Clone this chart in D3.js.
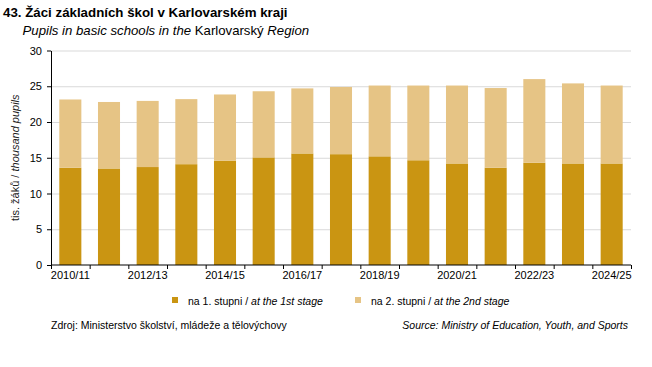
<!DOCTYPE html>
<html>
<head>
<meta charset="utf-8">
<script src="https://cdn.jsdelivr.net/npm/d3@7"></script>
<style>
  body { margin: 0; background: #fff; }
  svg { font-family: "Liberation Sans", Arial, sans-serif; }
  .gridline line { stroke: #d9d9d9; }
  .gridline path { display: none; }
  .axis text { font-size: 11px; fill: #000; }
  .axis path, .axis line { stroke: #000; }
</style>
</head>
<body>
<div class="chart"></div>
<script>
// school years
const years = ["2010/11", "2011/12", "2012/13", "2013/14", "2014/15", "2015/16", "2016/17",
  "2017/18", "2018/19", "2019/20", "2020/21", "2021/22", "2022/23", "2023/24", "2024/25"];
// thousand pupils, 1st stage
const stage1 = [13.6, 13.5, 13.7, 14.1, 14.6, 15.05, 15.6, 15.5, 15.2, 14.65, 14.2, 13.6, 14.3, 14.2, 14.2];
// thousand pupils, 2nd stage (total minus 1st stage)
const total = [23.15, 22.8, 22.95, 23.2, 23.85, 24.3, 24.7, 24.9, 25.1, 25.1, 25.1, 24.75, 26.0, 25.4, 25.1];
const stage2 = total.map((t, i) => +(t - stage1[i]).toFixed(2));
const yTicks = [0, 5, 10, 15, 20, 25, 30];

const w = 652;
const h = 367;
const margin = { top: 50.5, left: 51, right: 21, bottom: 102 };
const width = w - margin.left - margin.right;
const height = h - margin.top - margin.bottom;

const colors = { s1: "#CA9512", s2: "#E6C485" };

const svg = d3.select(".chart").append("svg")
  .attr("width", w)
  .attr("height", h);

// titles
svg.append("text")
  .attr("x", 3).attr("y", 17)
  .style("font-size", "13.3px").style("font-weight", "bold")
  .text("43. Žáci základních škol v Karlovarském kraji");

const sub = svg.append("text")
  .attr("x", 22.5).attr("y", 34.5)
  .style("font-size", "13.2px");
sub.append("tspan").style("font-style", "italic").text("Pupils in basic schools in the ");
sub.append("tspan").text("Karlovarský ");
sub.append("tspan").style("font-style", "italic").text("Region");

const x = d3.scaleBand()
  .domain(years)
  .range([0, width])
  .paddingInner(0.43)
  .paddingOuter(0.215);

const y = d3.scaleLinear()
  .domain([0, 30])
  .range([height, 0]);

const chart = svg.append("g")
  .attr("transform", "translate(" + margin.left + "," + margin.top + ")");

// gridlines
chart.append("g")
  .classed("gridline", true)
  .call(d3.axisLeft(y).tickValues(yTicks.slice(1)).tickSize(-width).tickFormat(""));

// stacked bars
const rows = years.map((yr, i) => ({ year: yr, s1: stage1[i], s2: stage2[i] }));
const series = d3.stack().keys(["s1", "s2"])(rows);

chart.selectAll(".layer")
  .data(series)
  .enter().append("g")
    .attr("fill", d => colors[d.key])
  .selectAll("rect")
  .data(d => d)
  .enter().append("rect")
    .attr("x", d => x(d.data.year))
    .attr("y", d => y(d[1]))
    .attr("width", x.bandwidth())
    .attr("height", d => y(d[0]) - y(d[1]));

// x axis: ticks on category boundaries, labels every second year
const xb = d3.scaleLinear().domain([0, years.length]).range([0, width]);
chart.append("g")
  .classed("axis", true)
  .attr("transform", "translate(0," + height + ")")
  .call(d3.axisBottom(xb).tickValues(d3.range(years.length + 1)).tickSize(4).tickFormat(""))
  .select(".domain").attr("d", "M0,0H" + width);

chart.append("g")
  .classed("axis", true)
  .attr("transform", "translate(0," + height + ")")
  .call(d3.axisBottom(x).tickSize(0).tickPadding(6)
    .tickFormat((d, i) => i % 2 === 0 ? d : ""))
  .select(".domain").remove();

// y axis
chart.append("g")
  .classed("axis", true)
  .call(d3.axisLeft(y).tickValues(yTicks).tickSize(4).tickSizeOuter(0).tickPadding(5));

// y axis title
const yt = svg.append("text")
  .attr("transform", "translate(19," + (margin.top + height / 2) + ") rotate(-90)")
  .attr("text-anchor", "middle")
  .style("font-size", "11px").style("fill", "#222");
yt.append("tspan").text("tis. žáků / ");
yt.append("tspan").style("font-style", "italic").text("thousand pupils");

// legend
const legend = [
  { key: "s1", x: 172, cz: "na 1. stupni  / ", en: "at the 1st stage" },
  { key: "s2", x: 355, cz: "na 2. stupni  / ", en: "at the 2nd stage" }
];
const lg = svg.selectAll(".legend")
  .data(legend)
  .enter().append("g")
    .attr("transform", d => "translate(" + d.x + ",297)");
lg.append("rect")
  .attr("width", 6).attr("height", 6)
  .attr("fill", d => colors[d.key]);
const lt = lg.append("text")
  .attr("x", 16).attr("y", 7.5)
  .style("font-size", "10.5px");
lt.append("tspan").text(d => d.cz);
lt.append("tspan").style("font-style", "italic").text(d => d.en);

// sources
svg.append("text")
  .attr("x", 51).attr("y", 329)
  .style("font-size", "10.5px")
  .text("Zdroj: Ministerstvo  školství,  mládeže  a tělovýchovy");
svg.append("text")
  .attr("x", 628).attr("y", 329)
  .attr("text-anchor", "end")
  .style("font-size", "10.5px").style("font-style", "italic")
  .text("Source: Ministry of Education, Youth, and Sports");
</script>
</body>
</html>
